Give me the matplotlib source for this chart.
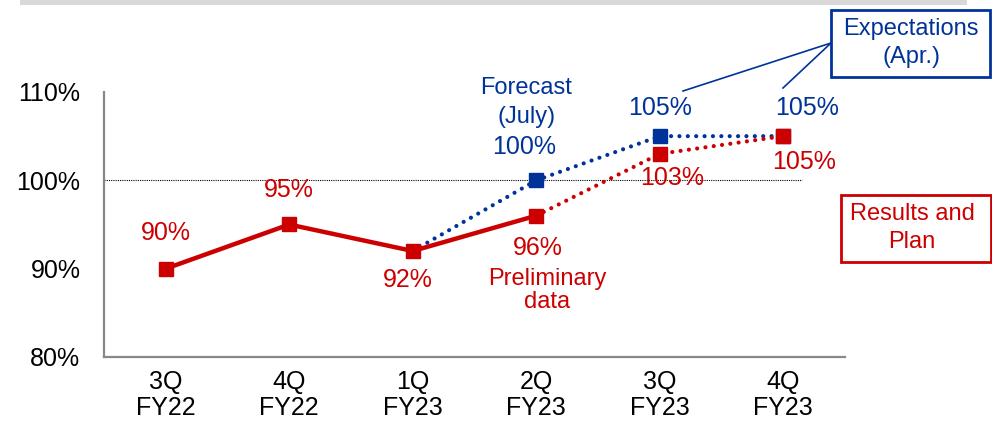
import matplotlib
matplotlib.use("Agg")
import matplotlib.pyplot as plt
from matplotlib.patches import Rectangle
from matplotlib.lines import Line2D

plt.rcParams['font.family'] = ['Liberation Sans', 'DejaVu Sans']

quarters = ["3Q\nFY22", "4Q\nFY22", "1Q\nFY23", "2Q\nFY23", "3Q\nFY23", "4Q\nFY23"]
results = [90, 95, 92, 96]          # 3Q FY22 .. 2Q FY23
plan = [96, 103, 105]               # 2Q FY23 .. 4Q FY23
forecast = [92, 100, 105, 105]      # 1Q FY23 .. 4Q FY23
yticks = [80, 90, 100, 110]

RED = "#CC0000"
BLUE = "#003399"

W, H = 992, 421
fig = plt.figure(figsize=(W / 100, H / 100), dpi=100)
ax = fig.add_axes([104 / W, (H - 357) / H, (845 - 104) / W, (357 - 92) / H])

x_res = list(range(0, 4))
x_plan = list(range(3, 6))
x_fc = list(range(2, 6))

# reference line at 100%
ax.plot([-0.5, 5.15], [100, 100], color="black", lw=0.8, ls=(0, (1, 1)), zorder=1)

dot = dict(lw=3, ls=(0, (0.01, 2.0)), dash_capstyle="round", zorder=2)
ax.plot(x_fc, forecast, color=BLUE, **dot)
ax.plot(x_fc[1:], forecast[1:], color=BLUE, marker="s", ms=10, ls="none", zorder=3)
ax.plot(x_plan, plan, color=RED, **dot)
ax.plot(x_res, results, color=RED, lw=3.2, zorder=4)
ax.plot(x_res, results, color=RED, marker="s", ms=10.5, ls="none", zorder=5)
ax.plot(x_plan[1:], plan[1:], color=RED, marker="s", ms=10.5, ls="none", zorder=5)

ax.set_xlim(-0.5, 5.5)
ax.set_ylim(80, 110)
ax.set_xticks(range(len(quarters)))
ax.set_xticklabels(quarters, fontsize=18, linespacing=1.12)
ax.set_yticks(yticks)
ax.set_yticklabels([f"{v}%" for v in yticks], fontsize=18)
ax.tick_params(axis="both", length=0)
ax.tick_params(axis="y", pad=17)
ax.tick_params(axis="x", pad=9)
for s in ["top", "right"]:
    ax.spines[s].set_visible(False)
for s in ["left", "bottom"]:
    ax.spines[s].set_color("#888888")
    ax.spines[s].set_linewidth(1.6)

# value labels
lab = dict(ha="center", va="center", fontsize=18)
ax.text(0, 94.0, f"{results[0]}%", color=RED, **lab)
ax.text(1, 98.9, f"{results[1]}%", color=RED, **lab)
ax.text(1.96, 88.7, f"{results[2]}%", color=RED, **lab)
ax.text(3.01, 92.3, f"{results[3]}%", color=RED, **lab)
ax.text(3.09, 87.5, "Preliminary\ndata", color=RED, ha="center", va="center",
        fontsize=17, linespacing=1.05)
ax.text(4.1, 100.3, f"{plan[1]}%", color=RED, **lab)
ax.text(5.17, 102.1, f"{plan[2]}%", color=RED, **lab)

ax.text(2.92, 108.8, "Forecast\n(July)", color=BLUE, ha="center", va="center",
        fontsize=17, linespacing=1.4)
ax.text(2.9, 103.8, f"{forecast[1]}%", color=BLUE, **lab)
ax.text(4.0, 108.2, f"{forecast[2]}%", color=BLUE, **lab)
ax.text(5.19, 108.2, f"{forecast[3]}%", color=BLUE, **lab)


def px(x, y):
    return x / W, (H - y) / H


# grey header bar
fig.patches.append(Rectangle(px(20, 5), (967 - 20) / W, 5 / H, transform=fig.transFigure,
                             facecolor="#D9D9D9", edgecolor="none"))

# legend boxes
fig.patches.append(Rectangle(px(831, 77), 159 / W, 67 / H, transform=fig.transFigure,
                             facecolor="white", edgecolor=BLUE, lw=2))
fig.text(*px(911, 43), "Expectations\n(Apr.)", color=BLUE, ha="center", va="center",
         fontsize=17, linespacing=1.38)
fig.patches.append(Rectangle(px(841, 262), 150 / W, 67 / H, transform=fig.transFigure,
                             facecolor="white", edgecolor=RED, lw=2))
fig.text(*px(912, 228), "Results and\nPlan", color=RED, ha="center", va="center",
         fontsize=17, linespacing=1.3)

for end in [(683, 91), (783, 88)]:
    (x0, y0), (x1, y1) = px(831, 43), px(*end)
    fig.lines.append(Line2D([x0, x1], [y0, y1], transform=fig.transFigure,
                            color=BLUE, lw=1.2))

fig.savefig("out.png", dpi=100)
